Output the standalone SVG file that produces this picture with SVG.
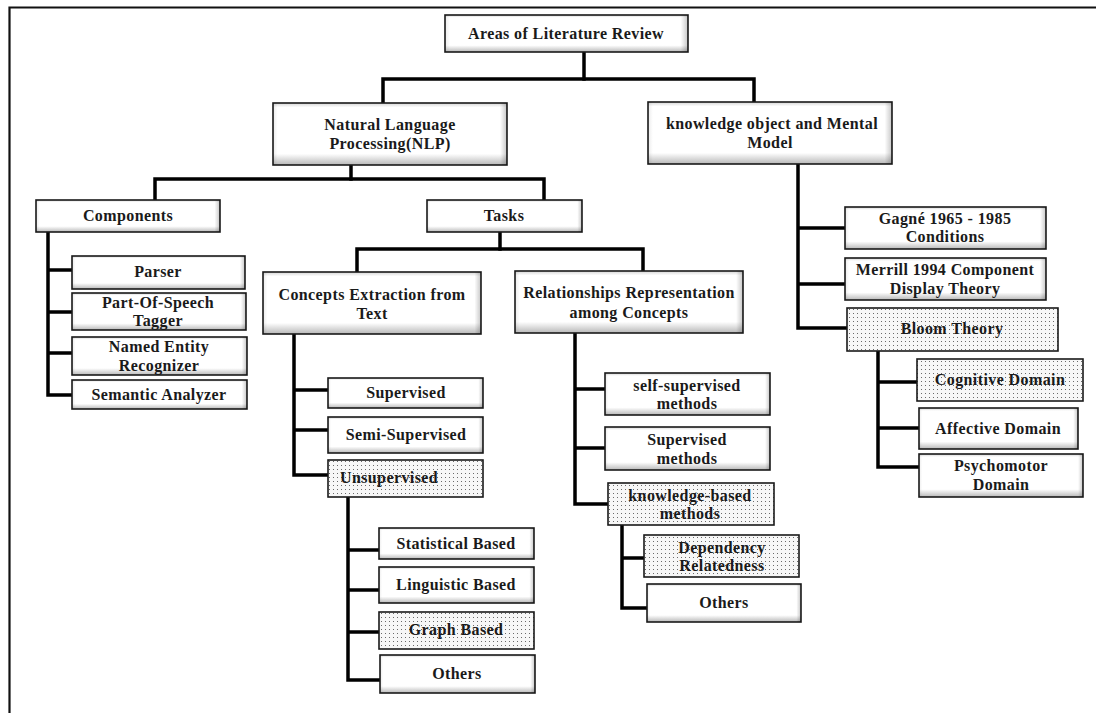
<svg xmlns="http://www.w3.org/2000/svg" width="1096" height="713" viewBox="0 0 1096 713">
  <defs>
    <!-- vertical bevel: light top edge, darker bottom edge -->
    <linearGradient id="bevelV" x1="0" y1="0" x2="0" y2="1">
      <stop offset="0" stop-color="#d4d4d4"/>
      <stop offset="0.07" stop-color="#ffffff"/>
      <stop offset="0.82" stop-color="#ffffff"/>
      <stop offset="1" stop-color="#b8b8b8"/>
    </linearGradient>
    <!-- horizontal bevel overlay: shaded right edge -->
    <linearGradient id="bevelH" x1="0" y1="0" x2="1" y2="0">
      <stop offset="0" stop-color="#000" stop-opacity="0.08"/>
      <stop offset="0.02" stop-color="#000" stop-opacity="0"/>
      <stop offset="0.97" stop-color="#000" stop-opacity="0"/>
      <stop offset="1" stop-color="#000" stop-opacity="0.22"/>
    </linearGradient>
    <!-- dotted fill -->
    <pattern id="dots" x="0" y="0" width="4" height="4" patternUnits="userSpaceOnUse">
      <rect width="4" height="4" fill="#f7f7f7"/>
      <rect x="1" y="1" width="1" height="1" fill="#6a6a6a"/>
    </pattern>
  </defs>
  <style>
    .box { fill: url(#bevelV); stroke: #1a1a1a; stroke-width: 1.6; }
    .shade { fill: url(#bevelH); stroke: none; }
    .dot { fill: url(#dots); stroke: #1a1a1a; stroke-width: 1.6; }
    .lbl { font-family: 'Liberation Serif', 'DejaVu Serif', serif; font-weight: 700; font-size: 16px; letter-spacing: 0.4px; fill: #1a1a1a; text-anchor: middle; }
    .wire { fill: none; stroke: #000; stroke-width: 3.5; stroke-linejoin: miter; stroke-linecap: square; }
    .frame { fill: none; stroke: #111; stroke-width: 2.2; }
  </style>

  <rect width="1096" height="713" fill="#ffffff"/>
  <path class="frame" d="M9.5,713 V7.5 H1096"/>

  <!-- connectors -->
  <g id="connectors">
    <path class="wire" d="M584,52 V79"/>
    <path class="wire" d="M383,103 V79 H754 V102"/>
    <path class="wire" d="M351,165 V179"/>
    <path class="wire" d="M155,200 V179 H544 V200"/>
    <path class="wire" d="M48,232 V395 H72 M48,270 H72 M48,312 H72 M48,353 H72"/>
    <path class="wire" d="M500,232 V249"/>
    <path class="wire" d="M357,272 V249 H643 V271"/>
    <path class="wire" d="M294,334 V475 H328 M294,390 H328 M294,430 H328"/>
    <path class="wire" d="M348,497 V680 H380 M348,550 H379 M348,590 H379 M348,632 H379"/>
    <path class="wire" d="M575,333 V504 H608 M575,389 H605 M575,448 H605"/>
    <path class="wire" d="M622,525 V608 H647 M622,558 H644"/>
    <path class="wire" d="M798,164 V328 H847 M798,228 H845 M798,284 H845"/>
    <path class="wire" d="M878,351 V467 H919 M878,382 H917 M878,428 H919"/>
  </g>

  <!-- nodes -->
  <g id="root">
    <rect class="box" x="445" y="15" width="243" height="37"/>
    <rect class="shade" x="445" y="15" width="243" height="37"/>
    <text class="lbl" x="566" y="39">Areas of Literature Review</text>
  </g>

  <g id="nlp">
    <rect class="box" x="273" y="103" width="234" height="62"/>
    <rect class="shade" x="273" y="103" width="234" height="62"/>
    <text class="lbl" x="390" y="130">Natural Language</text>
    <text class="lbl" x="390" y="149">Processing(NLP)</text>
  </g>

  <g id="komm">
    <rect class="box" x="648" y="102" width="244" height="62"/>
    <rect class="shade" x="648" y="102" width="244" height="62"/>
    <text class="lbl" x="772" y="129">knowledge object and Mental</text>
    <text class="lbl" x="770" y="148">Model</text>
  </g>

  <g id="components">
    <rect class="box" x="36" y="200" width="184" height="32"/>
    <rect class="shade" x="36" y="200" width="184" height="32"/>
    <text class="lbl" x="128" y="221">Components</text>
  </g>

  <g id="tasks">
    <rect class="box" x="427" y="200" width="155" height="32"/>
    <rect class="shade" x="427" y="200" width="155" height="32"/>
    <text class="lbl" x="504" y="221">Tasks</text>
  </g>

  <g id="parser">
    <rect class="box" x="72" y="256" width="173" height="33"/>
    <rect class="shade" x="72" y="256" width="173" height="33"/>
    <text class="lbl" x="158" y="277">Parser</text>
  </g>

  <g id="pos-tagger">
    <rect class="box" x="72" y="293" width="174" height="37"/>
    <rect class="shade" x="72" y="293" width="174" height="37"/>
    <text class="lbl" x="158" y="308">Part-Of-Speech</text>
    <text class="lbl" x="158" y="326">Tagger</text>
  </g>

  <g id="ner">
    <rect class="box" x="72" y="337" width="175" height="38"/>
    <rect class="shade" x="72" y="337" width="175" height="38"/>
    <text class="lbl" x="159" y="352">Named Entity</text>
    <text class="lbl" x="159" y="371">Recognizer</text>
  </g>

  <g id="semantic">
    <rect class="box" x="72" y="380" width="175" height="29"/>
    <rect class="shade" x="72" y="380" width="175" height="29"/>
    <text class="lbl" x="159" y="400">Semantic Analyzer</text>
  </g>

  <g id="concepts-extraction">
    <rect class="box" x="263" y="272" width="218" height="62"/>
    <rect class="shade" x="263" y="272" width="218" height="62"/>
    <text class="lbl" x="372" y="300">Concepts Extraction from</text>
    <text class="lbl" x="372" y="319">Text</text>
  </g>

  <g id="relationships">
    <rect class="box" x="515" y="271" width="228" height="62"/>
    <rect class="shade" x="515" y="271" width="228" height="62"/>
    <text class="lbl" x="629" y="298">Relationships Representation</text>
    <text class="lbl" x="629" y="318">among Concepts</text>
  </g>

  <g id="supervised">
    <rect class="box" x="328" y="378" width="155" height="30"/>
    <rect class="shade" x="328" y="378" width="155" height="30"/>
    <text class="lbl" x="406" y="398">Supervised</text>
  </g>

  <g id="semi-supervised">
    <rect class="box" x="328" y="417" width="155" height="36"/>
    <rect class="shade" x="328" y="417" width="155" height="36"/>
    <text class="lbl" x="406" y="440">Semi-Supervised</text>
  </g>

  <g id="unsupervised">
    <rect class="dot" x="328" y="460" width="155" height="37"/>
    <text class="lbl" x="389" y="483">Unsupervised</text>
  </g>

  <g id="statistical">
    <rect class="box" x="379" y="528" width="155" height="31"/>
    <rect class="shade" x="379" y="528" width="155" height="31"/>
    <text class="lbl" x="456" y="549">Statistical Based</text>
  </g>

  <g id="linguistic">
    <rect class="box" x="379" y="567" width="155" height="36"/>
    <rect class="shade" x="379" y="567" width="155" height="36"/>
    <text class="lbl" x="456" y="590">Linguistic Based</text>
  </g>

  <g id="graph-based">
    <rect class="dot" x="379" y="612" width="155" height="37"/>
    <text class="lbl" x="456" y="635">Graph Based</text>
  </g>

  <g id="others-concepts">
    <rect class="box" x="380" y="655" width="155" height="38"/>
    <rect class="shade" x="380" y="655" width="155" height="38"/>
    <text class="lbl" x="457" y="679">Others</text>
  </g>

  <g id="self-supervised">
    <rect class="box" x="605" y="373" width="165" height="42"/>
    <rect class="shade" x="605" y="373" width="165" height="42"/>
    <text class="lbl" x="687" y="391">self-supervised</text>
    <text class="lbl" x="687" y="409">methods</text>
  </g>

  <g id="supervised-methods">
    <rect class="box" x="605" y="427" width="165" height="43"/>
    <rect class="shade" x="605" y="427" width="165" height="43"/>
    <text class="lbl" x="687" y="445">Supervised</text>
    <text class="lbl" x="687" y="464">methods</text>
  </g>

  <g id="knowledge-based">
    <rect class="dot" x="608" y="483" width="166" height="42"/>
    <text class="lbl" x="690" y="501">knowledge-based</text>
    <text class="lbl" x="690" y="519">methods</text>
  </g>

  <g id="dependency">
    <rect class="dot" x="644" y="535" width="155" height="42"/>
    <text class="lbl" x="722" y="553">Dependency</text>
    <text class="lbl" x="722" y="571">Relatedness</text>
  </g>

  <g id="others-relations">
    <rect class="box" x="647" y="584" width="154" height="38"/>
    <rect class="shade" x="647" y="584" width="154" height="38"/>
    <text class="lbl" x="724" y="608">Others</text>
  </g>

  <g id="gagne">
    <rect class="box" x="845" y="207" width="201" height="42"/>
    <rect class="shade" x="845" y="207" width="201" height="42"/>
    <text class="lbl" x="945" y="224">Gagné 1965 - 1985</text>
    <text class="lbl" x="945" y="242">Conditions</text>
  </g>

  <g id="merrill">
    <rect class="box" x="845" y="258" width="201" height="42"/>
    <rect class="shade" x="845" y="258" width="201" height="42"/>
    <text class="lbl" x="945" y="275">Merrill 1994 Component</text>
    <text class="lbl" x="945" y="294">Display Theory</text>
  </g>

  <g id="bloom">
    <rect class="dot" x="847" y="308" width="211" height="43"/>
    <text class="lbl" x="952" y="334">Bloom Theory</text>
  </g>

  <g id="cognitive">
    <rect class="dot" x="917" y="359" width="166" height="42"/>
    <text class="lbl" x="1000" y="385">Cognitive Domain</text>
  </g>

  <g id="affective">
    <rect class="box" x="919" y="408" width="159" height="41"/>
    <rect class="shade" x="919" y="408" width="159" height="41"/>
    <text class="lbl" x="998" y="434">Affective Domain</text>
  </g>

  <g id="psychomotor">
    <rect class="box" x="919" y="454" width="164" height="43"/>
    <rect class="shade" x="919" y="454" width="164" height="43"/>
    <text class="lbl" x="1001" y="471">Psychomotor</text>
    <text class="lbl" x="1001" y="490">Domain</text>
  </g>
</svg>
